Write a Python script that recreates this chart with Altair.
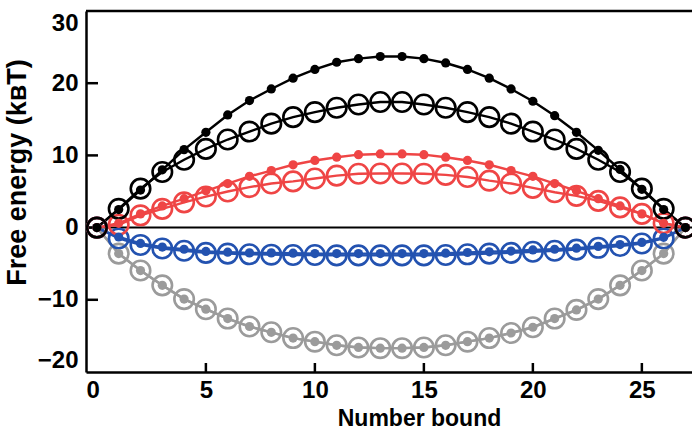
import altair as alt
import pandas as pd

n_bound = list(range(28))

black_filled = [0, 2.5, 5.2, 8.0, 10.8, 13.2, 15.6, 17.6, 19.2, 20.7, 21.9, 22.9, 23.4, 23.7,
                23.7, 23.4, 22.8, 21.9, 20.7, 19.2, 17.5, 15.5, 13.2, 10.7, 8.05, 5.3, 2.5, 0]
black_open = [0, 2.6, 5.4, 7.7, 9.4, 10.9, 12.2, 13.3, 14.4, 15.3, 16.0, 16.6, 17.05, 17.4,
              17.4, 17.05, 16.6, 16.0, 15.3, 14.4, 13.3, 12.2, 10.9, 9.4, 7.7, 5.4, 2.6, 0]
red_filled = [0, 0.6, 1.9, 3.0, 4.0, 5.1, 6.1, 7.1, 7.9, 8.7, 9.3, 9.75, 10.1, 10.2,
              10.2, 10.1, 9.75, 9.3, 8.7, 7.9, 7.1, 6.1, 5.1, 4.0, 3.0, 1.9, 0.6, 0]
red_open = [0, 0.4, 1.7, 2.6, 3.5, 4.3, 5.0, 5.6, 6.1, 6.4, 6.8, 7.2, 7.45, 7.5,
            7.5, 7.45, 7.3, 7.0, 6.5, 6.1, 5.5, 4.9, 4.4, 3.7, 2.8, 1.9, 0.6, 0]
blue_filled = [0, -1.3, -2.2, -2.7, -3.0, -3.3, -3.4, -3.5, -3.5, -3.55, -3.6, -3.6, -3.6, -3.6,
               -3.6, -3.6, -3.55, -3.45, -3.35, -3.25, -3.1, -3.0, -2.85, -2.6, -2.35, -2.05, -1.35, 0]
blue_open = [0, -1.5, -2.4, -2.9, -3.2, -3.5, -3.6, -3.7, -3.75, -3.8, -3.8, -3.85, -3.85, -3.85,
             -3.85, -3.85, -3.8, -3.7, -3.6, -3.5, -3.35, -3.2, -3.05, -2.8, -2.55, -2.2, -1.5, 0]
gray_filled = [0, -3.6, -5.95, -8.0, -9.9, -11.3, -12.6, -13.7, -14.5, -15.3, -15.8, -16.3, -16.6, -16.7,
               -16.7, -16.6, -16.3, -15.8, -15.3, -14.6, -13.8, -12.6, -11.4, -9.9, -8.0, -5.95, -3.6, 0]
gray_open = [0, -3.6, -5.95, -8.0, -9.9, -11.3, -12.6, -13.7, -14.5, -15.3, -15.8, -16.3, -16.6, -16.7,
             -16.7, -16.6, -16.3, -15.8, -15.3, -14.6, -13.8, -12.6, -11.4, -9.9, -8.0, -5.95, -3.6, 0]

x_tick_values = [5, 10, 15, 20, 25]
y_tick_values = [-10, 0, 10, 20]

groups = ["gray", "blue", "red", "black"]
group_colors = ["#9b9b9b", "#2352b0", "#ef4545", "#000000"]

series = [
    ("gray_open", "gray", "open", gray_open),
    ("gray_filled", "gray", "filled", gray_filled),
    ("blue_open", "blue", "open", blue_open),
    ("blue_filled", "blue", "filled", blue_filled),
    ("red_open", "red", "open", red_open),
    ("red_filled", "red", "filled", red_filled),
    ("black_open", "black", "open", black_open),
    ("black_filled", "black", "filled", black_filled),
]

rows = []
for name, grp, marker, vals in series:
    for n, v in zip(n_bound, vals):
        rows.append({"series": name, "group": grp, "marker": marker, "n": n, "energy": v})
df = pd.DataFrame(rows)

FONT = "Liberation Sans"
W, H = 606, 361

x_scale = alt.Scale(domain=[-0.5, 27.3], nice=False, zero=False)
y_scale = alt.Scale(domain=[-20, 30], nice=False, zero=False)

x_enc = alt.X(
    "n:Q",
    scale=x_scale,
    axis=alt.Axis(
        values=[-0.5, 5, 10, 15, 20, 25],
        labelExpr="datum.value < 0 ? '0' : datum.label",
        title="Number bound",
        grid=False, ticks=False,
        domainColor="black", domainWidth=2.5,
        labelPadding=6,
        labelFont=FONT, labelFontSize=24, labelFontWeight="bold", labelColor="black",
        titleFont=FONT, titleFontSize=23, titleFontWeight="bold", titleColor="black",
        titleX=333, titleY=53, titleBaseline="alphabetic", titleAlign="center",
    ),
)
y_enc = alt.Y(
    "energy:Q",
    scale=y_scale,
    axis=alt.Axis(
        values=[-20, -10, 0, 10, 20, 30],
        title="Free energy (kʙT)",
        grid=False, ticks=False,
        labelFlush=True,
        domainColor="black", domainWidth=2.5,
        labelPadding=8,
        labelFont=FONT, labelFontSize=24, labelFontWeight="bold", labelColor="black",
        titleFont=FONT, titleFontSize=27, titleFontWeight="bold", titleColor="black",
        titleX=-61, titleY=161, titleBaseline="alphabetic", titleAlign="center", titleAngle=270,
    ),
)
color_enc = alt.Color("group:N", scale=alt.Scale(domain=groups, range=group_colors), legend=None)

base = alt.Chart(df).encode(x=x_enc, y=y_enc)

lines = base.mark_line(strokeWidth=2.4).encode(color=color_enc, detail="series:N", order="n:Q")
open_pts = base.transform_filter(alt.datum.marker == "open").mark_point(
    shape="circle", filled=False, size=380, strokeWidth=2.6, opacity=1
).encode(color=color_enc)
filled_pts = base.transform_filter(alt.datum.marker == "filled").mark_circle(
    size=85, opacity=1
).encode(color=color_enc)

ref_lines = pd.DataFrame({"level": [0, 30], "w": [2, 2.5]})
rules = alt.Chart(ref_lines).mark_rule(color="black").encode(
    y=alt.Y("level:Q", scale=y_scale),
    strokeWidth=alt.StrokeWidth("w:Q", legend=None, scale=None),
)

# inward-pointing ticks
x_ticks = alt.Chart(pd.DataFrame({"t": x_tick_values})).mark_rule(
    color="black", strokeWidth=2.5
).encode(x=alt.X("t:Q", scale=x_scale), y=alt.value(H - 9), y2=alt.value(H))
y_ticks = alt.Chart(pd.DataFrame({"t": y_tick_values})).mark_rule(
    color="black", strokeWidth=2.5
).encode(y=alt.Y("t:Q", scale=y_scale), x=alt.value(0), x2=alt.value(12))

chart = alt.layer(rules, x_ticks, y_ticks, lines, open_pts, filled_pts).properties(
    width=W, height=H,
    autosize=alt.AutoSizeParams(type="none"),
    padding={"left": 86, "top": 11, "right": 0, "bottom": 61},
).configure_view(stroke=None).configure(background="white")

chart.save("out.html", embed_options={"renderer": "svg", "actions": False})
